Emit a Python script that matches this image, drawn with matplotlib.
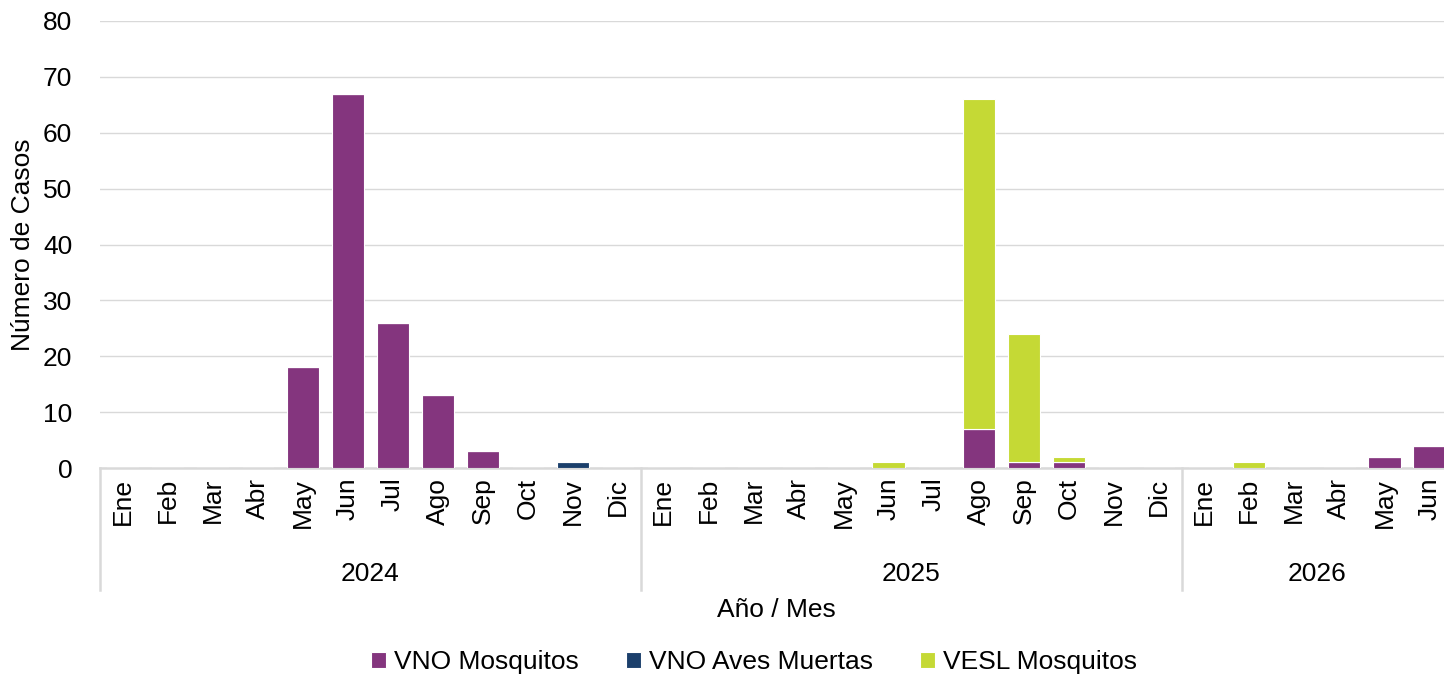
import matplotlib.pyplot as plt
import numpy as np
from matplotlib.transforms import blended_transform_factory

plt.rcParams['font.family'] = ['Liberation Sans', 'DejaVu Sans']

# datos
meses = ['Ene', 'Feb', 'Mar', 'Abr', 'May', 'Jun', 'Jul', 'Ago', 'Sep', 'Oct', 'Nov', 'Dic',
         'Ene', 'Feb', 'Mar', 'Abr', 'May', 'Jun', 'Jul', 'Ago', 'Sep', 'Oct', 'Nov', 'Dic',
         'Ene', 'Feb', 'Mar', 'Abr', 'May', 'Jun']
anios = ['2024', '2025', '2026']
meses_por_anio = [12, 12, 6]

vno_mosquitos = [0, 0, 0, 0, 18, 67, 26, 13, 3, 0, 0, 0,
                 0, 0, 0, 0, 0, 0, 0, 7, 1, 1, 0, 0,
                 0, 0, 0, 0, 2, 4]
vno_aves = [0, 0, 0, 0, 0, 0, 0, 0, 0, 0, 1, 0,
            0, 0, 0, 0, 0, 0, 0, 0, 0, 0, 0, 0,
            0, 0, 0, 0, 0, 0]
vesl_mosquitos = [0, 0, 0, 0, 0, 0, 0, 0, 0, 0, 0, 0,
                  0, 0, 0, 0, 0, 1, 0, 59, 23, 1, 0, 0,
                  0, 1, 0, 0, 0, 0]

c_vno = '#84357E'
c_aves = '#1B3F6B'
c_vesl = '#C5D935'
fs = 19

fig = plt.figure(figsize=(14.44, 6.75), dpi=100)
ax = fig.add_axes([100 / 1444, 1 - 468 / 675, 1352 / 1444, (468 - 21) / 675])

x = np.arange(len(meses))
a = np.array(vno_mosquitos)
b = np.array(vno_aves)
c = np.array(vesl_mosquitos)
w = 0.72
ax.bar(x, a, w, color=c_vno, edgecolor='white', linewidth=0.8, label='VNO Mosquitos', zorder=3)
ax.bar(x, b, w, bottom=a, color=c_aves, edgecolor='white', linewidth=0.8, label='VNO Aves Muertas', zorder=3)
ax.bar(x, c, w, bottom=a + b, color=c_vesl, edgecolor='white', linewidth=0.8, label='VESL Mosquitos', zorder=3)

ax.set_xlim(-0.5, len(meses) - 0.5)
ax.set_ylim(0, 80)
ax.set_yticks(range(0, 81, 10))
ax.tick_params(axis='y', length=0, labelsize=fs, pad=20)
ax.grid(axis='y', color='#d9d9d9', linewidth=1, zorder=0)
ax.set_ylabel('Número de Casos', fontsize=fs, labelpad=6)

ax.set_xticks(x)
ax.set_xticklabels(meses, rotation=90, fontsize=fs)
ax.tick_params(axis='x', length=0, pad=7)

for s in ['top', 'right', 'left']:
    ax.spines[s].set_visible(False)
ax.spines['bottom'].set_color('#d9d9d9')
ax.spines['bottom'].set_linewidth(1.8)

# separadores de año
tr = blended_transform_factory(ax.transData, ax.transAxes)
y_bot = -(590 - 468) / 447
bordes = np.concatenate([[0], np.cumsum(meses_por_anio)]) - 0.5
for xb in bordes[:-1]:
    ax.plot([xb, xb], [0, y_bot], transform=tr, color='#d9d9d9', linewidth=1.8, clip_on=False)
for i, anio in enumerate(anios):
    xc = (bordes[i] + bordes[i + 1]) / 2
    ax.text(xc, -(574 - 468) / 447, anio, transform=tr, ha='center', va='center', fontsize=fs)

fig.text(776 / 1444, 1 - 610 / 675, 'Año / Mes', ha='center', va='center', fontsize=fs)

fig.legend(*ax.get_legend_handles_labels(), loc='center', bbox_to_anchor=(754 / 1444, 1 - 662 / 675),
           ncol=3, frameon=False, fontsize=fs, handlelength=0.55, handleheight=0.55,
           handletextpad=0.3, columnspacing=1.8)

fig.savefig('out.png', dpi=100)
